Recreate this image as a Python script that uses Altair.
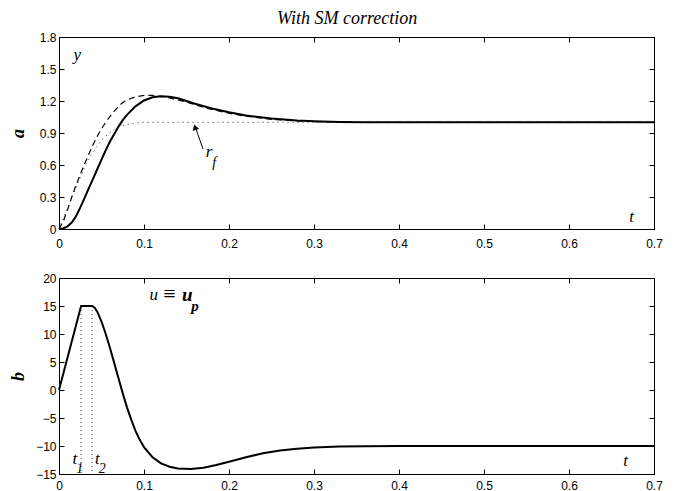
import altair as alt
import pandas as pd

# ---------------- data ----------------
t_y = [0, 0.005, 0.01, 0.015, 0.02, 0.025, 0.03, 0.035, 0.04, 0.045,
       0.05, 0.055, 0.06, 0.065, 0.07, 0.075, 0.08, 0.09, 0.10, 0.11,
       0.12, 0.13, 0.14, 0.15, 0.16, 0.18, 0.20, 0.22, 0.25, 0.28,
       0.30, 0.33, 0.36, 0.40, 0.50, 0.60, 0.70]
y_solid = [0, 0.005, 0.025, 0.06, 0.12, 0.2, 0.29, 0.38, 0.47, 0.56,
           0.65, 0.74, 0.82, 0.89, 0.96, 1.02, 1.07, 1.15, 1.205, 1.235,
           1.245, 1.24, 1.225, 1.2, 1.175, 1.13, 1.095, 1.065, 1.035, 1.017,
           1.01, 1.004, 1.001, 1.0, 1.0, 1.0, 1.0]
y_dashed = [0, 0.07, 0.18, 0.3, 0.41, 0.51, 0.61, 0.7, 0.79, 0.87,
            0.94, 1.0, 1.055, 1.105, 1.15, 1.185, 1.21, 1.24, 1.252, 1.252,
            1.243, 1.228, 1.21, 1.19, 1.165, 1.12, 1.085, 1.057, 1.028, 1.013,
            1.007, 1.002, 1.0, 1.0, 1.0, 1.0, 1.0]

t_rf = [0, 0.005, 0.01, 0.015, 0.02, 0.025, 0.03, 0.035, 0.04, 0.045,
        0.05, 0.055, 0.06, 0.065, 0.07, 0.075, 0.08, 0.09, 0.10, 0.70]
r_f = [0, 0.1, 0.19, 0.29, 0.39, 0.48, 0.58, 0.66, 0.72, 0.78,
       0.83, 0.87, 0.905, 0.935, 0.955, 0.97, 0.98, 0.993, 1.0, 1.0]

t_u = [0, 0.026, 0.039, 0.042, 0.045, 0.05, 0.055, 0.06, 0.065, 0.07,
       0.075, 0.08, 0.085, 0.09, 0.095, 0.10, 0.11, 0.12, 0.13, 0.14,
       0.155, 0.17, 0.185, 0.20, 0.22, 0.24, 0.26, 0.28, 0.30, 0.33,
       0.36, 0.40, 0.50, 0.60, 0.70]
u_vals = [0, 15, 15, 14.7, 14.0, 12.2, 10.0, 7.5, 4.8, 2.1,
          -0.6, -3.1, -5.3, -7.3, -8.9, -10.2, -12.0, -13.1, -13.7, -14.0,
          -14.1, -13.9, -13.4, -12.8, -12.0, -11.3, -10.8, -10.5, -10.25, -10.1,
          -10.03, -10.0, -10.0, -10.0, -10.0]

t_switch = [0.026, 0.039]           # t1, t2
u_sat = 15
u_low = -15

x_ticks = [0, 0.1, 0.2, 0.3, 0.4, 0.5, 0.6, 0.7]
a_ticks = [0, 0.3, 0.6, 0.9, 1.2, 1.5, 1.8]
b_ticks = [-15, -10, -5, 0, 5, 10, 15, 20]

title_text = "With SM correction"

# ---------------- style ----------------
SERIF = "Liberation Serif"
SANS = "Liberation Sans"
W = 595
H_A = 192
H_B = 196
TK = 5

xs = alt.Scale(domain=[0, 0.7], nice=False, zero=False)
ys_a = alt.Scale(domain=[0, 1.8], nice=False, zero=False)
ys_b = alt.Scale(domain=[-15, 20], nice=False, zero=False)


def ax(orient, values, labels=True, title=None, title_pad=12, xpad=7):
    kw = dict(orient=orient, values=values, format="~g", offset=-TK, tickSize=TK,
              domain=False, grid=False, tickColor="black", tickWidth=1,
              labels=labels, labelFont=SANS, labelFontSize=12, labelColor="black",
              labelFlush=False, labelOverlap=False)
    if orient in ("bottom", "top"):
        kw["labelPadding"] = xpad
    else:
        kw["labelPadding"] = 3
    if title is not None:
        kw.update(title=title, titleFont=SERIF, titleFontSize=18, titleFontStyle="italic",
                  titleFontWeight="bold", titleColor="black", titlePadding=title_pad)
    else:
        kw["title"] = None
    return alt.Axis(**kw)


def text_layer(df, size, style="italic", weight="normal", font=SERIF, align="center", yscale=None):
    return alt.Chart(df).mark_text(font=font, fontSize=size, fontStyle=style,
                                   fontWeight=weight, align=align, baseline="middle",
                                   color="black").encode(
        x=alt.X("t:Q", scale=xs, axis=None),
        y=alt.Y("v:Q", scale=yscale, axis=None),
        text="s:N")


# ---------------- panel a ----------------
df_a = pd.DataFrame({"t": t_y, "solid": y_solid, "dashed": y_dashed})
df_rf = pd.DataFrame({"t": t_rf, "r": r_f})

solid_a = alt.Chart(df_a).mark_line(color="black", strokeWidth=2).encode(
    x=alt.X("t:Q", scale=xs, axis=ax("bottom", x_ticks, xpad=9)),
    y=alt.Y("solid:Q", scale=ys_a, axis=ax("left", a_ticks, title="a")))
dashed_a = alt.Chart(df_a).mark_line(color="black", strokeWidth=1.2, strokeDash=[6, 4]).encode(
    x=alt.X("t:Q", scale=xs, axis=ax("top", x_ticks, labels=False)),
    y=alt.Y("dashed:Q", scale=ys_a, axis=ax("right", a_ticks, labels=False)))
dotted_a = alt.Chart(df_rf).mark_line(color="#333333", strokeWidth=1, strokeDash=[1, 4]).encode(
    x=alt.X("t:Q", scale=xs, axis=None),
    y=alt.Y("r:Q", scale=ys_a, axis=None))

arrow_df = pd.DataFrame({"t": [0.1694], "v": [0.75], "t2": [0.1600], "v2": [0.965]})
arrow_line = alt.Chart(arrow_df).mark_rule(color="black", strokeWidth=1).encode(
    x=alt.X("t:Q", scale=xs, axis=None), y=alt.Y("v:Q", scale=ys_a, axis=None),
    x2="t2:Q", y2="v2:Q")
head_df = pd.DataFrame({"t": [0.1600], "v": [0.955]})
arrow_head = alt.Chart(head_df).mark_point(shape="triangle-up", filled=True, color="black",
                                           size=45, angle=341, opacity=1).encode(
    x=alt.X("t:Q", scale=xs, axis=None), y=alt.Y("v:Q", scale=ys_a, axis=None))

title_df = pd.DataFrame({"t": [0.339], "v": [1.965], "s": [title_text]})
lab_a1 = pd.DataFrame({"t": [0.0215, 0.6738, 0.1765], "v": [1.63, 0.11, 0.72], "s": ["y", "t", "r"]})
lab_a2 = pd.DataFrame({"t": [0.1825], "v": [0.615], "s": ["f"]})

panel_a = alt.layer(
    dotted_a, dashed_a, solid_a, arrow_line, arrow_head,
    text_layer(title_df, 18, yscale=ys_a),
    text_layer(lab_a1, 17, yscale=ys_a),
    text_layer(lab_a2, 14, yscale=ys_a),
).resolve_axis(x="independent", y="independent").properties(width=W, height=H_A)

# ---------------- panel b ----------------
df_u = pd.DataFrame({"t": t_u, "u": u_vals})
df_sw = pd.DataFrame({"t": t_switch, "top": [u_sat, u_sat], "bot": [u_low, u_low]})

solid_b = alt.Chart(df_u).mark_line(color="black", strokeWidth=2).encode(
    x=alt.X("t:Q", scale=xs, axis=ax("bottom", x_ticks, xpad=6)),
    y=alt.Y("u:Q", scale=ys_b, axis=ax("left", b_ticks, title="b", title_pad=8)))
mirror_b = alt.Chart(df_u).mark_line(opacity=0).encode(
    x=alt.X("t:Q", scale=xs, axis=ax("top", x_ticks, labels=False)),
    y=alt.Y("u:Q", scale=ys_b, axis=ax("right", b_ticks, labels=False)))
vlines = alt.Chart(df_sw).mark_rule(color="#333333", strokeWidth=1, strokeDash=[1, 3]).encode(
    x=alt.X("t:Q", scale=xs, axis=None),
    y=alt.Y("top:Q", scale=ys_b, axis=None), y2="bot:Q")

lab_b1 = pd.DataFrame({"t": [0.1115, 0.0188, 0.045, 0.6667], "v": [17.0, -12.3, -12.3, -12.6],
                       "s": ["u", "t", "t", "t"]})
lab_b_eq = pd.DataFrame({"t": [0.1300], "v": [17.2], "s": ["\u2261"]})
lab_b_bold = pd.DataFrame({"t": [0.1510], "v": [17.0], "s": ["u"]})
lab_b_sub_bold = pd.DataFrame({"t": [0.1600], "v": [15.0], "s": ["p"]})
lab_b_sub = pd.DataFrame({"t": [0.0245, 0.0510], "v": [-14.1, -14.1], "s": ["1", "2"]})

panel_b = alt.layer(
    vlines, mirror_b, solid_b,
    text_layer(lab_b1, 17, yscale=ys_b),
    text_layer(lab_b_eq, 22, style="normal", yscale=ys_b),
    text_layer(lab_b_bold, 19, weight="bold", yscale=ys_b),
    text_layer(lab_b_sub_bold, 15, weight="bold", yscale=ys_b),
    text_layer(lab_b_sub, 14, yscale=ys_b),
).resolve_axis(x="independent", y="independent").properties(width=W, height=H_B)

chart = alt.vconcat(panel_a, panel_b, spacing=49, bounds="flush").properties(
    padding={"left": 0, "top": 1, "right": 0, "bottom": 0},
    background="white",
).configure_view(stroke="black", strokeWidth=1)

chart.save("out.html", embed_options={"renderer": "svg", "actions": False})
